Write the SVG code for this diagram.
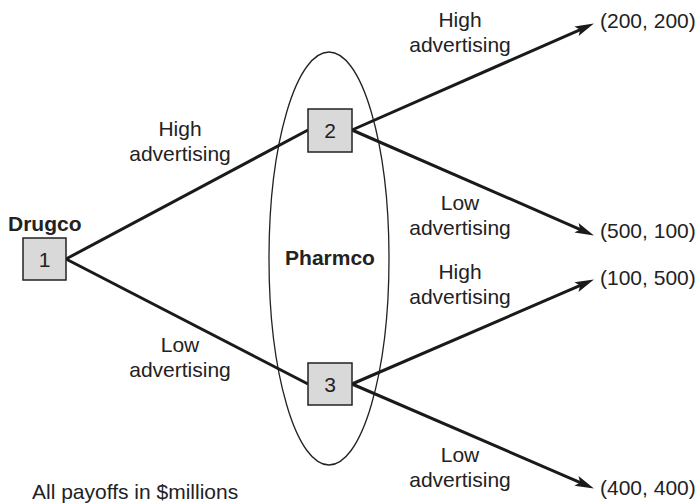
<svg xmlns="http://www.w3.org/2000/svg" width="700" height="504" viewBox="0 0 700 504">
<defs>
<style>
text{font-family:"Liberation Sans",Arial,sans-serif;font-size:21px;fill:#222;}
.b{font-weight:bold;}
.c{text-anchor:middle;}
.box{fill:#d9d9d9;stroke:#222;stroke-width:1.5;}
.edge{stroke:#1a1a1a;stroke-width:3;fill:none;}
.arr{marker-end:url(#ah);}
</style>
<marker id="ah" viewBox="0 0 20 12" refX="8" refY="6" markerWidth="20" markerHeight="12" markerUnits="userSpaceOnUse" orient="auto">
<path d="M0,0.8 L19,6 L0,11.2 L4,6 z" fill="#1a1a1a"/>
</marker>
</defs>
<rect width="700" height="504" fill="#fff"/>
<g id="infoset">
<ellipse cx="329" cy="258.5" rx="60" ry="206.5" fill="none" stroke="#222" stroke-width="1.3"/>
<text class="b c" x="330" y="265">Pharmco</text>
</g>
<g id="connectors">
<line class="edge" x1="66" y1="259" x2="308" y2="130"/>
<line class="edge" x1="66" y1="259" x2="308" y2="384"/>
<line class="edge arr" x1="352" y1="130" x2="583.85" y2="28.03"/>
<line class="edge arr" x1="352" y1="130" x2="583.83" y2="231.01"/>
<line class="edge arr" x1="352" y1="384" x2="583.82" y2="283.96"/>
<line class="edge arr" x1="352" y1="384" x2="583.82" y2="484.04"/>
<text class="c" x="180" y="136">High</text>
<text class="c" x="180" y="161">advertising</text>
<text class="c" x="180" y="352">Low</text>
<text class="c" x="180" y="377">advertising</text>
<text class="c" x="460" y="27">High</text>
<text class="c" x="460" y="52">advertising</text>
<text class="c" x="460" y="210">Low</text>
<text class="c" x="460" y="235">advertising</text>
<text class="c" x="460" y="279">High</text>
<text class="c" x="460" y="304">advertising</text>
<text class="c" x="460" y="462">Low</text>
<text class="c" x="460" y="487">advertising</text>
</g>
<g id="node1">
<text class="b" x="8" y="231">Drugco</text>
<rect class="box" x="23" y="238" width="43" height="42"/>
<text class="c" x="44.5" y="266.5">1</text>
</g>
<g id="node2">
<rect class="box" x="308" y="109" width="44" height="43"/>
<text class="c" x="330" y="138">2</text>
</g>
<g id="node3">
<rect class="box" x="308" y="363" width="44" height="42"/>
<text class="c" x="330" y="391.5">3</text>
</g>
<g id="payoffs">
<text x="600" y="28">(200, 200)</text>
<text x="600" y="238">(500, 100)</text>
<text x="600" y="285">(100, 500)</text>
<text x="600" y="495">(400, 400)</text>
</g>
<text x="32" y="499">All payoffs in $millions</text>
</svg>
